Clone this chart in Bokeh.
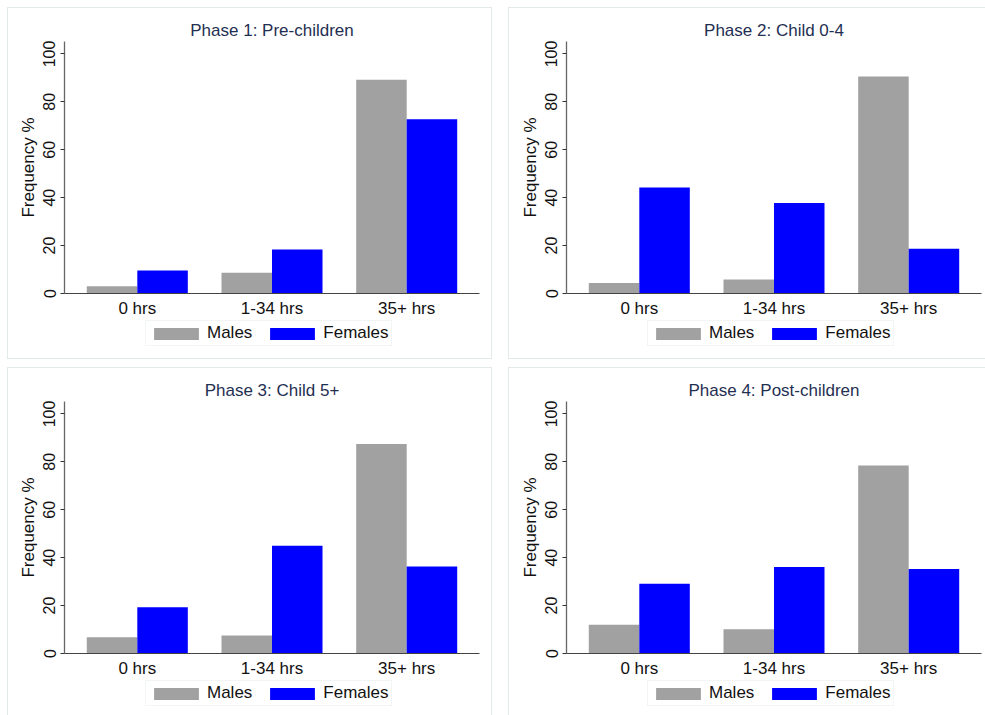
from bokeh.plotting import figure
from bokeh.models import (FactorRange, Range1d, FixedTicker, Legend,
                          LegendItem, ColumnDataSource)
from bokeh.transform import dodge
from bokeh.layouts import row, column
from bokeh.embed import file_html
from bokeh.resources import INLINE

# ---- data ----
categories = ["0 hrs", "1-34 hrs", "35+ hrs"]
titles = ["Phase 1: Pre-children", "Phase 2: Child 0-4",
          "Phase 3: Child 5+", "Phase 4: Post-children"]
series_names = ["Males", "Females"]
males_p1 = [3.0, 8.7, 89.2]
females_p1 = [9.6, 18.4, 72.7]
males_p2 = [4.4, 5.8, 90.6]
females_p2 = [44.2, 37.8, 18.7]
males_p3 = [6.8, 7.5, 87.5]
females_p3 = [19.3, 45.0, 36.3]
males_p4 = [12.0, 10.1, 78.5]
females_p4 = [29.1, 36.1, 35.3]
y_ticks = [0, 20, 40, 60, 80, 100]

FONT = "Liberation Sans"
GREY = "#a1a1a1"
BLUE = "#0000ff"
BORDER = "1px solid #e2eaec"


def cat_range():
    return FactorRange(factors=categories, range_padding=0.027,
                       range_padding_units="percent")


def make_panel(title, src, left, right, w):
    p = figure(
        x_range=cat_range(),
        y_range=Range1d(0, 105.2),
        width=w, height=312,
        min_border_left=left, min_border_right=right,
        min_border_top=33, min_border_bottom=26,
        output_backend="svg", toolbar_location=None,
        background_fill_color="white", border_fill_color="white",
        outline_line_color=None,
    )
    p.vbar(x=dodge("cat", -0.1875, range=p.x_range), top="males",
           width=0.375, source=src, fill_color=GREY, line_color=None)
    p.vbar(x=dodge("cat", 0.1875, range=p.x_range), top="females",
           width=0.375, source=src, fill_color=BLUE, line_color=None)

    p.title.text = title
    p.title.align = "center"
    p.title.text_font = FONT
    p.title.text_font_size = "17px"
    p.title.text_font_style = "normal"
    p.title.text_color = "#1f2f52"
    p.title.standoff = 4

    p.xgrid.grid_line_color = None
    p.ygrid.grid_line_color = None

    xa = p.xaxis[0]
    xa.major_tick_line_color = None
    xa.major_tick_out = 0
    xa.major_tick_in = 0
    xa.minor_tick_line_color = None
    xa.axis_line_color = "#444444"
    xa.axis_line_width = 1.2
    xa.major_label_text_font = FONT
    xa.major_label_text_font_size = "17px"
    xa.major_label_text_color = "#111111"
    xa.major_label_standoff = 5

    ya = p.yaxis[0]
    ya.ticker = FixedTicker(ticks=y_ticks)
    ya.minor_tick_line_color = None
    ya.major_tick_in = 0
    ya.major_tick_out = 4
    ya.major_tick_line_color = "#333333"
    ya.axis_line_color = "#666666"
    ya.axis_line_width = 1.3
    ya.major_label_orientation = "vertical"
    ya.major_label_text_font = FONT
    ya.major_label_text_font_size = "16px"
    ya.major_label_text_color = "#111111"
    ya.major_label_standoff = 5
    ya.axis_label = "Frequency %"
    ya.axis_label_text_font = FONT
    ya.axis_label_text_font_size = "17px"
    ya.axis_label_text_font_style = "normal"
    ya.axis_label_text_color = "#111111"
    ya.axis_label_standoff = 3
    return p


def make_legend(src, w, h, y_loc):
    lf = figure(
        x_range=cat_range(), y_range=Range1d(0, 1),
        width=w, height=h,
        min_border_left=0, min_border_right=0,
        min_border_top=0, min_border_bottom=0,
        x_axis_location=None, y_axis_location=None,
        output_backend="svg", toolbar_location=None,
        background_fill_color="white", border_fill_color="white",
        outline_line_color=None,
    )
    lf.xgrid.grid_line_color = None
    lf.ygrid.grid_line_color = None
    # hidden copies of the bar series, used only for the legend swatches
    rm = lf.vbar(x=dodge("cat", -0.1875, range=lf.x_range), top="males",
                 width=0.375, source=src, fill_color=GREY, line_color=None,
                 visible=False)
    rf = lf.vbar(x=dodge("cat", 0.1875, range=lf.x_range), top="females",
                 width=0.375, source=src, fill_color=BLUE, line_color=None,
                 visible=False)
    legend = Legend(
        items=[LegendItem(label=series_names[0], renderers=[rm]),
               LegendItem(label=series_names[1], renderers=[rf])],
        orientation="horizontal", location=(81, y_loc),
        glyph_width=56, glyph_height=15, label_height=15,
        label_standoff=3, spacing=12, padding=2, margin=0,
        label_text_font=FONT, label_text_font_size="17px",
        label_text_color="#111111",
        inactive_fill_alpha=0.0,
        border_line_color="#e4ecee", background_fill_color="white",
    )
    lf.add_layout(legend, "center")
    return lf


data = [(males_p1, females_p1), (males_p2, females_p2),
        (males_p3, females_p3), (males_p4, females_p4)]
srcs = [ColumnDataSource(dict(cat=categories, males=m, females=f))
        for m, f in data]

p1 = make_panel(titles[0], srcs[0], 56, 12, 483)
p2 = make_panel(titles[1], srcs[1], 57, 4, 476)
p3 = make_panel(titles[2], srcs[2], 56, 12, 483)
p4 = make_panel(titles[3], srcs[3], 57, 4, 476)

l1 = make_legend(srcs[0], 483, 38, 12)
l2 = make_legend(srcs[1], 476, 38, 12)
l3 = make_legend(srcs[2], 483, 35, 9)
l4 = make_legend(srcs[3], 476, 35, 9)

w1 = column(p1, l1, spacing=0, styles={"border": BORDER})
w2 = column(p2, l2, spacing=0,
            styles={"border-left": BORDER, "border-top": BORDER,
                    "border-bottom": BORDER})
w3 = column(p3, l3, spacing=0,
            styles={"border-left": BORDER, "border-top": BORDER,
                    "border-right": BORDER})
w4 = column(p4, l4, spacing=0,
            styles={"border-left": BORDER, "border-top": BORDER})

layout = column(row(w1, w2, spacing=16), row(w3, w4, spacing=16),
                spacing=8, margin=(7, 0, 0, 7))

open("out.html", "w").write(file_html(layout, INLINE))
